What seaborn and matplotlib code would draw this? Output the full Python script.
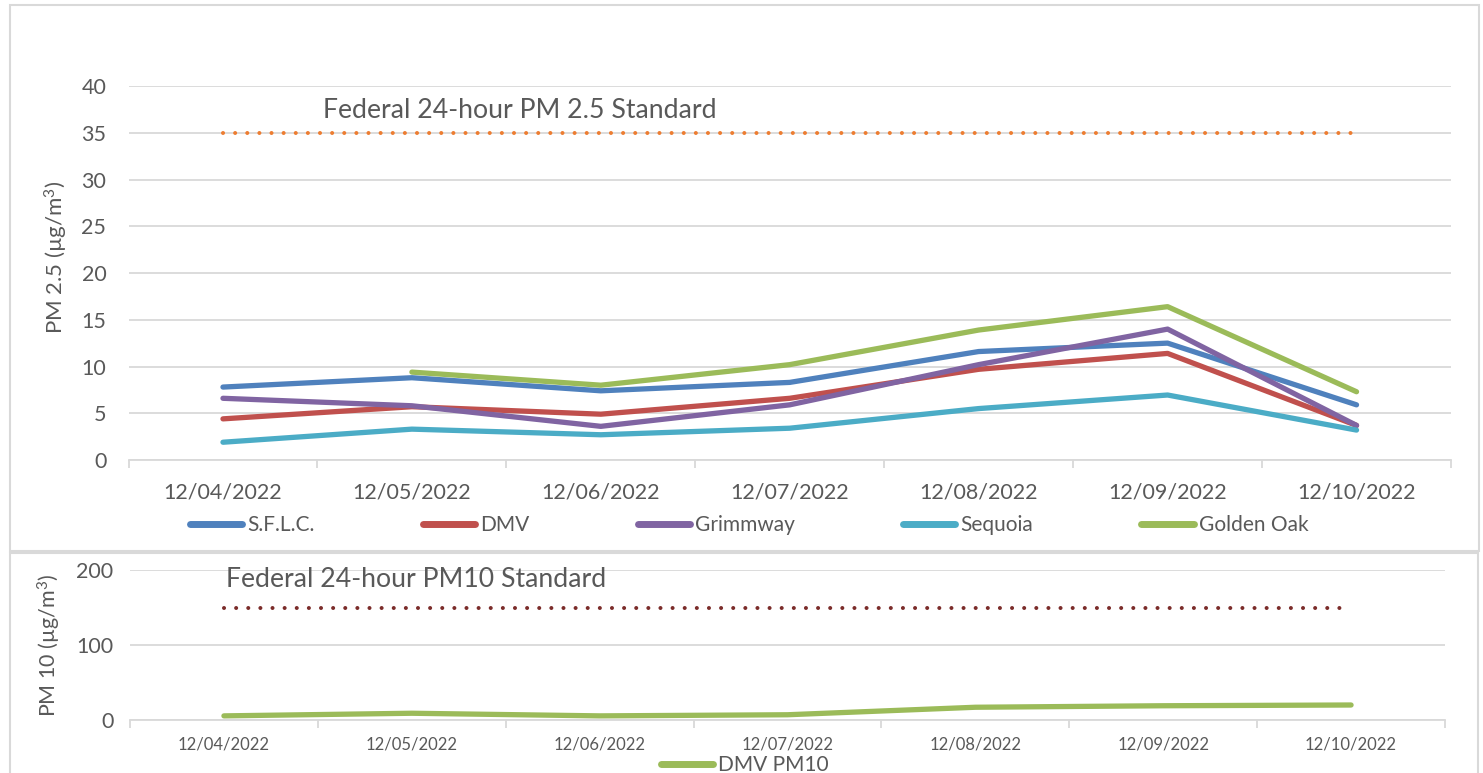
import matplotlib
matplotlib.use("Agg")
import matplotlib.pyplot as plt
import seaborn as sns
import numpy as np
import pandas as pd
from matplotlib.patches import Rectangle
from matplotlib.lines import Line2D

dates = ["12/04/2022", "12/05/2022", "12/06/2022", "12/07/2022",
         "12/08/2022", "12/09/2022", "12/10/2022"]
sflc = [7.8, 8.8, 7.4, 8.3, 11.6, 12.5, 5.9]
dmv = [4.4, 5.7, 4.9, 6.6, 9.7, 11.4, 3.7]
grimmway = [6.6, 5.8, 3.6, 5.9, 10.2, 14.0, 3.7]
sequoia = [1.9, 3.3, 2.7, 3.4, 5.5, 6.95, 3.2]
golden_oak = [np.nan, 9.4, 8.0, 10.2, 13.9, 16.4, 7.3]
pm25_standard = 35
dmv_pm10 = [5.5, 9, 5.5, 7, 17, 19, 20]
pm10_standard = 150

series_names = ["S.F.L.C.", "DMV", "Grimmway", "Sequoia", "Golden Oak"]
series_vals = [sflc, dmv, grimmway, sequoia, golden_oak]
colors = ["#4F81BD", "#C0504D", "#8064A2", "#4BACC6", "#9BBB59"]

sns.set_theme(style="white")
plt.rcParams["font.family"] = ["Lato", "DejaVu Sans"]
plt.rcParams["mathtext.fontset"] = "custom"
plt.rcParams["mathtext.rm"] = "Lato"
plt.rcParams["mathtext.default"] = "rm"
TXT = "#595959"
GRID = "#D9D9D9"

W, H = 1483, 773
fig = plt.figure(figsize=(W / 100, H / 100), dpi=100)

def fx(px):
    return px / W

def fy(py):
    return 1 - py / H

# panel frames
fig.patches.append(Rectangle((fx(10), fy(551)), fx(1479) - fx(10), fy(5) - fy(551),
                             transform=fig.transFigure, fill=False, ec=GRID, lw=1.5, zorder=0))
fig.patches.append(Rectangle((fx(10), -0.02), fx(1478) - fx(10), fy(553) + 0.02,
                             transform=fig.transFigure, fill=False, ec=GRID, lw=1.5, zorder=0))

x = np.arange(len(dates))
long = pd.DataFrame({
    "idx": np.tile(x, len(series_names)),
    "val": np.concatenate([np.array(v, dtype=float) for v in series_vals]),
    "site": np.repeat(series_names, len(dates)),
})

# ---------- Top panel ----------
L1, R1 = 128.5, 1451
ax1 = fig.add_axes([fx(L1), fy(460), fx(R1) - fx(L1), fy(86) - fy(460)])
sns.lineplot(data=long, x="idx", y="val", hue="site", hue_order=series_names,
             palette=colors, lw=3.8, ax=ax1, legend=False, sort=False)
for l in ax1.lines:
    l.set_solid_capstyle("round")
    l.set_solid_joinstyle("round")
sns.lineplot(x=[x[0], x[-1]], y=[pm25_standard, pm25_standard], ax=ax1,
             color="#ED7D31", lw=2.9)
ax1.lines[-1].set_linestyle((0, (0.01, 3.0)))
ax1.lines[-1].set_dash_capstyle("round")
ax1.text(0.53, 37.4, "Federal 24-hour PM 2.5 Standard", color=TXT, fontsize=19.2,
         ha="left", va="center")
ax1.set_xlim(-0.5, 6.5)
ax1.set_ylim(0, 40)
ax1.set_yticks(range(0, 41, 5))
ax1.set_xticks(x)
ax1.set_xticklabels(dates)
ax1.set_xticks(np.arange(-0.5, 7, 1), minor=True)
ax1.tick_params(axis="x", which="major", length=0, pad=16, labelsize=15.5, labelcolor=TXT)
ax1.tick_params(axis="x", which="minor", length=6, width=1.3, color=GRID, direction="out", bottom=True)
ax1.tick_params(axis="y", length=0, pad=16, labelsize=15.5, labelcolor=TXT)
ax1.grid(axis="y", color=GRID, lw=1.3)
ax1.set_axisbelow(True)
for s in ["top", "right", "left"]:
    ax1.spines[s].set_visible(False)
ax1.spines["bottom"].set_color(GRID)
ax1.spines["bottom"].set_linewidth(1.3)
ax1.set_xlabel("")
ax1.set_ylabel("PM 2.5 (µg/m$^3$)", color=TXT, fontsize=16)
ax1.yaxis.set_label_coords((fx(70) - fx(L1)) / (fx(R1) - fx(L1)), (460 - 257) / 374)

handles = [Line2D([0], [0], color=c, lw=5, solid_capstyle="round") for c in colors]
fig.legend(handles, series_names, loc="center", bbox_to_anchor=(fx(749), fy(525)),
           ncol=5, frameon=False, fontsize=15, handlelength=2.5, handletextpad=0.25,
           columnspacing=5.2, labelcolor=TXT)

# ---------- Bottom panel ----------
L2, R2 = 130, 1445
ax2 = fig.add_axes([fx(L2), fy(720), fx(R2) - fx(L2), fy(570) - fy(720)])
sns.lineplot(x=x, y=dmv_pm10, ax=ax2, color="#9BBB59", lw=3.8)
ax2.lines[-1].set_solid_capstyle("round")
sns.lineplot(x=[x[0], x[-1]], y=[pm10_standard, pm10_standard], ax=ax2,
             color="#7B2C2A", lw=2.9)
ax2.lines[-1].set_linestyle((0, (0.01, 3.0)))
ax2.lines[-1].set_dash_capstyle("round")
ax2.text(0.01, 187, "Federal 24-hour PM10 Standard", color=TXT, fontsize=19.2,
         ha="left", va="center")
ax2.set_xlim(-0.5, 6.5)
ax2.set_ylim(0, 200)
ax2.set_yticks([0, 100, 200])
ax2.set_xticks(x)
ax2.set_xticklabels(dates)
ax2.set_xticks(np.arange(-0.5, 7, 1), minor=True)
ax2.tick_params(axis="x", which="major", length=0, pad=12, labelsize=12, labelcolor=TXT)
ax2.tick_params(axis="x", which="minor", length=6, width=1.3, color=GRID, direction="out", bottom=True)
ax2.tick_params(axis="y", length=0, pad=12, labelsize=15.5, labelcolor=TXT)
ax2.grid(axis="y", color=GRID, lw=1.3)
ax2.set_axisbelow(True)
for s in ["top", "right", "left"]:
    ax2.spines[s].set_visible(False)
ax2.spines["bottom"].set_color(GRID)
ax2.spines["bottom"].set_linewidth(1.3)
ax2.set_ylabel("PM 10 (µg/m$^3$)", color=TXT, fontsize=15.5)
ax2.yaxis.set_label_coords((fx(63) - fx(L2)) / (fx(R2) - fx(L2)), 0.5)

fig.legend([Line2D([0], [0], color="#9BBB59", lw=5, solid_capstyle="round")], ["DMV PM10"],
           loc="center", bbox_to_anchor=(fx(745), fy(765)), frameon=False, fontsize=15,
           handlelength=2.5, handletextpad=0.25, labelcolor=TXT)

fig.savefig("out.png", dpi=100)
